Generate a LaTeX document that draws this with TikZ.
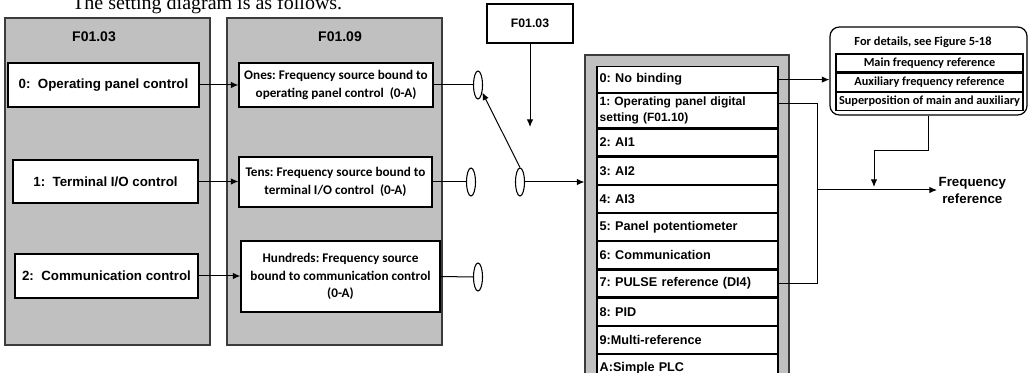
\documentclass[tikz,border=0pt]{standalone}
\usepackage{fontspec}
\setmainfont{Liberation Sans}
\newfontfamily\calfont{Carlito}
\newfontfamily\capfont{Liberation Serif}
\usepackage{xcolor}
\definecolor{grisPanel}{HTML}{C0C0C0}
\definecolor{bordePanel}{HTML}{3C3C3C}
\usetikzlibrary{arrows.meta,positioning,shapes.geometric,calc}

\begin{document}
\frenchspacing
\begin{tikzpicture}[x=0.75pt,y=-0.75pt,
  panel/.style={draw=bordePanel,fill=grisPanel,line width=0.8pt},
  ptitle/.style={font=\bfseries\fontsize{10.5}{12}\selectfont},
  box/.style={draw,fill=white,line width=0.9pt,align=center,inner sep=1pt,
    font=\bfseries\fontsize{10}{12}\selectfont},
  bind/.style={box,font=\calfont\bfseries\fontsize{9.9}{13}\selectfont},
  item/.style={draw,fill=white,line width=0.9pt,anchor=north,inner xsep=2pt,
    inner ysep=0pt,text width=131.75pt,minimum height=20.25pt,align=left,
    font=\bfseries\fontsize{9.5}{11}\selectfont},
  drow/.style={draw,fill=white,line width=0.8pt,minimum width=140.25pt,
    minimum height=13.5pt,inner sep=0pt,font=\calfont\bfseries\fontsize{9.2}{10}\selectfont},
  sw/.style={ellipse,draw,fill=white,line width=0.8pt,minimum width=6.75pt,
    minimum height=21pt,inner sep=0pt},
  ln/.style={line width=0.75pt},
  arr/.style={ln,-{Latex[length=2mm,width=1.7mm]}}]
  \useasboundingbox (0,0) rectangle (1028,373);
  \node[anchor=base west,inner sep=0pt,font=\capfont\fontsize{15}{18}\selectfont]
    (cap) at (72,10) {The setting diagram is as follows.};
  \node[panel,minimum width=153.75pt,minimum height=245.25pt] (p1) at (107.5,181.5) {};
  \node[panel,minimum width=161.25pt,minimum height=245.25pt] (p2) at (334.5,181.5) {};
  \node[panel,minimum width=153pt,minimum height=255pt] (p3) at (687,225) {};
  \node[ptitle] (t1) at (94,37) {F01.03};
  \node[ptitle] (t2) at (340,37) {F01.09};
  \node[box,minimum width=143.25pt,minimum height=33pt] (c0) at (103.5,85)
    {0:\ \ Operating panel control};
  \node[box,minimum width=138.75pt,minimum height=32.25pt] (c1) at (105.5,181.5)
    {1:\ \ Terminal I/O control};
  \node[box,minimum width=137.25pt,minimum height=33pt] (c2) at (106.5,276)
    {2:\ \ Communication control};
  \node[bind,minimum width=145.5pt,minimum height=33pt] (b0) at (336,85)
    {Ones: Frequency source bound to\\operating panel control\ \ (0-A)};
  \node[bind,minimum width=144.75pt,minimum height=37.5pt] (b1) at (335.5,182)
    {Tens: Frequency source bound to\\terminal I/O control\ \ (0-A)};
  \node[bind,minimum width=149.25pt,minimum height=53.25pt] (b2) at (340.5,276.5)
    {Hundreds: Frequency source\\bound to communication control\\(0-A)};
  \draw[arr] (c0.east)--(c0.east -| b0.west);
  \draw[arr] (c1.east)--(c1.east -| b1.west);
  \draw[arr] (c2.east)--(c2.east -| b2.west);
  \node[sw] (e0) at (478,85) {};
  \node[sw] (e1) at (471,182) {};
  \node[sw] (e2) at (478,277) {};
  \node[sw] (es) at (520,182) {};
  \draw[ln] (b0.east)--(e0.west);
  \draw[ln] (b1.east)--(e1.west);
  \draw[ln] (b2.east)--(e2.west);
  \node[box,font=\bfseries\fontsize{9.2}{11}\selectfont,minimum width=64.5pt,
    minimum height=29.25pt] (sel) at (530,23.5) {F01.03};
  \coordinate (selend) at (530,127);
  \draw[arr] (sel.south)--(selend);
  \draw[arr] (es.north)--(e0.-60);
  \draw[arr] (es.east)--(es.east -| p3.west);
  \node[item,minimum height=19.5pt] (r0) at (687.5,66) {0: No binding};
  \node[item,minimum height=25.5pt,below=0pt of r0,font=\bfseries\fontsize{9}{12}\selectfont]
    (r1) {1: Operating panel digital\\setting (F01.10)};
  \node[item,below=0pt of r1] (r2) {2: AI1};
  \node[item,below=0pt of r2] (r3) {3: AI2};
  \node[item,below=0pt of r3] (r4) {4: AI3};
  \node[item,below=0pt of r4] (r5) {5: Panel potentiometer};
  \node[item,below=0pt of r5] (r6) {6: Communication};
  \node[item,below=0pt of r6] (r7) {7: PULSE reference (DI4)};
  \node[item,below=0pt of r7] (r8) {8: PID};
  \node[item,below=0pt of r8] (r9) {9:Multi-reference};
  \node[item,below=0pt of r9] (rA) {A:Simple PLC};
  \node[draw,fill=white,line width=0.9pt,rounded corners=7pt,minimum width=147.75pt,
    minimum height=66pt] (det) at (928.5,71) {};
  \node[font=\calfont\bfseries\fontsize{9.3}{10}\selectfont] (dett) at (923,42)
    {For details, see Figure 5-18};
  \node[drow] (d0) at (929.5,63) {Main frequency reference};
  \node[drow,below=0pt of d0] (d1) {Auxiliary frequency reference};
  \node[drow,below=0pt of d1] (d2) {Superposition of main and auxiliary};
  \draw[arr] (r0.east)--(r0.east -| det.west);
  \coordinate (brk) at (817,190);
  \draw[ln] ($(r1.east)+(0,-7)$) -| (brk) |- (r7.east);
  \node[anchor=west,inner sep=1pt,align=center,
    font=\bfseries\fontsize{10}{12.75}\selectfont] (freq) at (937,190) {Frequency\\reference};
  \draw[arr] (brk)--(freq.west);
  \coordinate (dj) at (874,187);
  \draw[arr] (det.south)--++(0,35) -| (dj);
\end{tikzpicture}
\end{document}
